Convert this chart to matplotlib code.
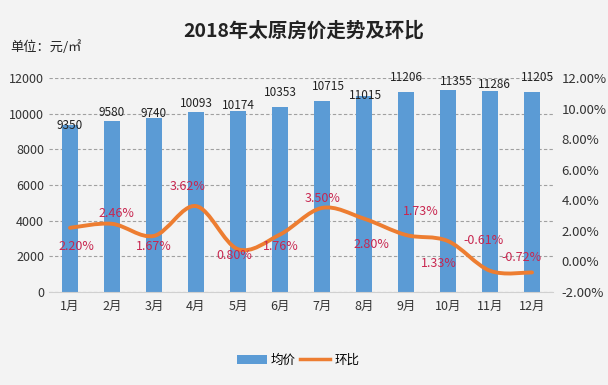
import matplotlib
matplotlib.use("Agg")
import matplotlib.pyplot as plt
from matplotlib.path import Path
from matplotlib.patches import PathPatch, Patch
from matplotlib.lines import Line2D
from matplotlib.ticker import FuncFormatter
import numpy as np

plt.rcParams['font.family'] = ['Noto Sans CJK SC', 'DejaVu Sans']

months = ['1月', '2月', '3月', '4月', '5月', '6月', '7月', '8月', '9月', '10月', '11月', '12月']
avg_price = [9350, 9580, 9740, 10093, 10174, 10353, 10715, 11015, 11206, 11355, 11286, 11205]
mom_change = [2.20, 2.46, 1.67, 3.62, 0.80, 1.76, 3.50, 2.80, 1.73, 1.33, -0.61, -0.72]

title = '2018年太原房价走势及环比'
unit_text = '单位：元/㎡'
series_names = ['均价', '环比']

# label offsets in pixels (dx, dy)
bar_label_off = [(0, 0), (0, 9), (0, 5), (0, 9), (0, 5), (0, 15), (6, 14), (2, 0), (0, 15), (8, 8), (4, 6), (6, 15)]
pct_label_off = [(6, -19), (4, 10), (0, -11), (-8, 20), (-4, -6), (1, -12), (1, 9), (7, -26), (15, 23), (-9, -22), (-6, 30), (-11, 15)]

bg = '#f3f3f3'
bar_color = '#5b9bd5'
line_color = '#ed7d31'
pct_color = '#c8264f'

fig = plt.figure(figsize=(6.08, 3.85), dpi=100, facecolor=bg)
ax = fig.add_axes([49/608, 1-292/385, (553-49)/608, (292-78)/385])
ax.set_facecolor(bg)
x = np.arange(len(months))
ax.bar(x, avg_price, width=0.4, color=bar_color, zorder=2)
ax.set_xlim(-0.5, len(months)-0.5)
ax.set_ylim(0, 12000)
ax.set_yticks(np.arange(0, 12001, 2000))
ax.yaxis.grid(True, linestyle=(0, (3, 2)), color='#a0a0a0', linewidth=0.8, zorder=0)
ax.set_xticks(x)
ax.set_xticklabels(months, fontsize=8.5)
ax.tick_params(axis='both', length=0, labelsize=9, colors='#333333')
ax.tick_params(axis='x', pad=6)
for s in ['top', 'right', 'left']:
    ax.spines[s].set_visible(False)
ax.spines['bottom'].set_color('#d0d0d0')

for i, v in enumerate(avg_price):
    dx, dy = bar_label_off[i]
    ax.annotate(str(v), (x[i], v), xytext=(dx, dy), textcoords='offset pixels',
                ha='center', va='center', fontsize=8.5, color='#222222', zorder=5)

ax2 = ax.twinx()
ax2.set_ylim(-2, 12)
ax2.set_yticks(np.arange(-2, 12.01, 2))
ax2.yaxis.set_major_formatter(FuncFormatter(lambda v, p: f'{v:.2f}%'))
ax2.tick_params(axis='y', length=0, labelsize=9.5, colors='#333333', pad=6)
for s in ax2.spines.values():
    s.set_visible(False)

# smooth line (Excel-like) via cubic bezier segments
pts = np.column_stack([x, mom_change]).astype(float)
n = len(pts)
verts = [tuple(pts[0])]
codes = [Path.MOVETO]
for i in range(n-1):
    p0 = pts[i-1] if i > 0 else pts[i]
    p1 = pts[i]
    p2 = pts[i+1]
    p3 = pts[i+2] if i+2 < n else pts[i+1]
    c1 = p1 + (p2 - p0) / 6.0
    c2 = p2 - (p3 - p1) / 6.0
    verts += [tuple(c1), tuple(c2), tuple(p2)]
    codes += [Path.CURVE4]*3
ax2.add_patch(PathPatch(Path(verts, codes), facecolor='none', edgecolor=line_color,
                        linewidth=2.8, zorder=3, capstyle='round', joinstyle='round'))

for i, v in enumerate(mom_change):
    dx, dy = pct_label_off[i]
    ax2.annotate(f'{v:.2f}%', (x[i], v), xytext=(dx, dy), textcoords='offset pixels',
                 ha='center', va='center', fontsize=9, color=pct_color, zorder=6)

fig.text(0.5, 1-31/385, title, ha='center', va='center', fontsize=14, fontweight='bold', color='#222222')
fig.text(10/608, 1-47/385, unit_text, ha='left', va='center', fontsize=9.5, color='#222222')

handles = [Patch(facecolor=bar_color, edgecolor='none'),
           Line2D([0], [0], color=line_color, linewidth=2.5)]
fig.legend(handles, series_names, loc='center', bbox_to_anchor=(0.49, 1-360/385), ncol=2,
           frameon=False, fontsize=9, handlelength=2.4, handletextpad=0.3, columnspacing=0.4)

fig.savefig('out.png', dpi=100, facecolor=bg)
